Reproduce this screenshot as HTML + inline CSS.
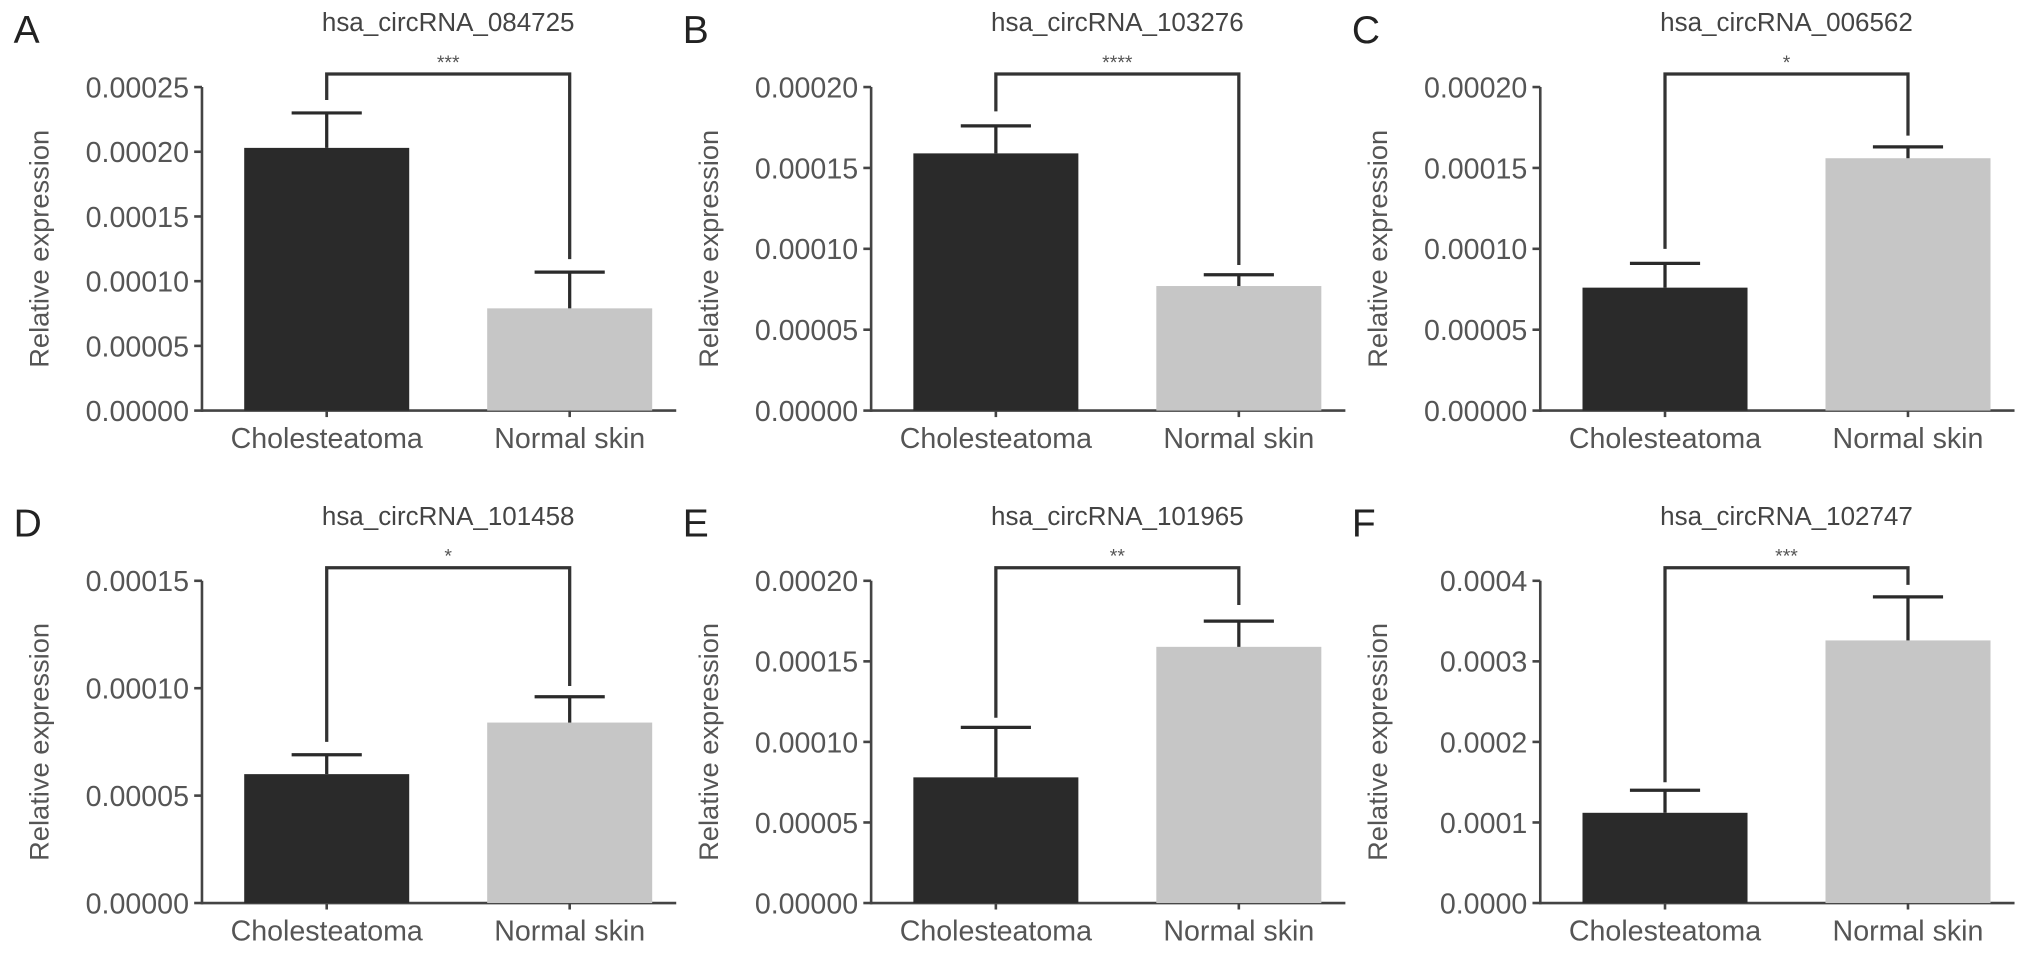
<!DOCTYPE html>
<html><head><meta charset="utf-8"><style>
html,body{margin:0;padding:0;background:#fff;}
svg{display:block;font-family:"Liberation Sans",sans-serif;}
</style></head><body>
<svg id="fig" width="2032" height="955" viewBox="0 0 1563 735" xmlns="http://www.w3.org/2000/svg"></svg>
<script>
const panelLetters = ["A","B","C","D","E","F"];
const titles = ["hsa_circRNA_084725","hsa_circRNA_103276","hsa_circRNA_006562","hsa_circRNA_101458","hsa_circRNA_101965","hsa_circRNA_102747"];
const categories = ["Cholesteatoma","Normal skin"];
const cholValues = [0.000203,0.000159,0.000076,0.000060,0.000078,0.000112];
const cholErr = [0.000230,0.000176,0.000091,0.000069,0.000109,0.000140];
const normValues = [0.000079,0.000077,0.000156,0.000084,0.000159,0.000326];
const normErr = [0.000107,0.000084,0.000163,0.000096,0.000175,0.000380];
const yMax = [0.00025,0.0002,0.0002,0.00015,0.0002,0.0004];
const yStep = [0.00005,0.00005,0.00005,0.00005,0.00005,0.0001];
const yDecimals = [5,5,5,5,5,4];
const stars = ["***","****","*","*","**","***"];
const bracketLeftEnd = [0.00024,0.000185,0.00010,0.000075,0.000115,0.00015];
const bracketRightEnd = [0.000117,0.00009,0.00017,0.000101,0.000185,0.000395];

const NS="http://www.w3.org/2000/svg";
const svg=document.getElementById('fig');
function mk(tag,attrs,parent){const e=document.createElementNS(NS,tag);for(const k in attrs)e.setAttribute(k,attrs[k]);(parent||svg).appendChild(e);return e;}

const colX=[155,670,1185];
const rowTop=[67,447], rowBot=[316,695];
for(let p=0;p<6;p++){
  const ax=colX[p%3], r=Math.floor(p/3), top=rowTop[r], bot=rowBot[r];
  const g=mk('g',{});
  
  
  const y=v=>bot-(v/yMax[p])*(bot-top);
  const cx=[ax+96, ax+283];
  const bw=127;
  const lt=mk('text',{x:ax-145,y:top-34,'font-size':30,fill:'#222'},g);lt.textContent=panelLetters[p];
  
  const tt=mk('text',{x:(cx[0]+cx[1])/2,y:top-43,'font-size':20,fill:'#444','text-anchor':'middle'},g);tt.textContent=titles[p];
  
  const ya=mk('line',{x1:ax,y1:top,x2:ax,y2:bot+1,stroke:'#444','stroke-width':2},g);
  
  const xa=mk('line',{x1:ax,y1:bot,x2:ax+365,y2:bot,stroke:'#444','stroke-width':2},g);
  
  const nT=Math.round(yMax[p]/yStep[p]);
  for(let i=0;i<=nT;i++){
    const v=i*yStep[p], yy=y(v);
    mk('line',{x1:ax-6,y1:yy,x2:ax,y2:yy,stroke:'#444','stroke-width':2},g);
    const t=mk('text',{x:ax-10,y:yy+8,'font-size':22,fill:'#555','text-anchor':'end'},g);t.textContent=v.toFixed(yDecimals[p]);
    
  }
  const yt=mk('text',{x:0,y:0,'font-size':21,fill:'#555','text-anchor':'middle',transform:`translate(${ax-118},${(top+bot)/2}) rotate(-90)`},g);
  yt.textContent='Relative expression';
  
  const vals=[cholValues[p],normValues[p]], errs=[cholErr[p],normErr[p]], cols=['#2a2a2a','#c6c6c6'];
  for(let k=0;k<2;k++){
    const b=mk('rect',{x:cx[k]-bw/2,y:y(vals[k]),width:bw,height:bot-y(vals[k]),fill:cols[k]},g);
    
    mk('line',{x1:cx[k],y1:y(vals[k]),x2:cx[k],y2:y(errs[k]),stroke:'#2a2a2a','stroke-width':2.5},g);
    const eb=mk('line',{x1:cx[k]-27,y1:y(errs[k]),x2:cx[k]+27,y2:y(errs[k]),stroke:'#2a2a2a','stroke-width':2.5},g);
    
    mk('line',{x1:cx[k],y1:bot,x2:cx[k],y2:bot+5,stroke:'#444','stroke-width':2},g);
    const xl=mk('text',{x:cx[k],y:bot+29,'font-size':22,fill:'#555','text-anchor':'middle'},g);xl.textContent=categories[k];
    
  }
  const by=top-10;
  const br=mk('path',{d:`M${cx[0]},${y(bracketLeftEnd[p])} V${by} H${cx[1]} V${y(bracketRightEnd[p])}`,fill:'none',stroke:'#333','stroke-width':2.5},g);
  
  const st=mk('text',{x:(cx[0]+cx[1])/2,y:by-4,'font-size':15,fill:'#555','text-anchor':'middle'},g);st.textContent=stars[p];
  
}
</script>
</body></html>
